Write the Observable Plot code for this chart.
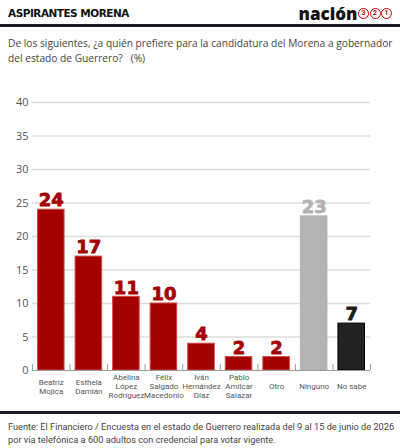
<!DOCTYPE html>
<html><head><meta charset="utf-8">
<script src="https://cdn.jsdelivr.net/npm/d3@7"></script>
<script src="https://cdn.jsdelivr.net/npm/@observablehq/plot@0.6"></script>
<style>
body{margin:0;background:#fff;}
#wrap{position:relative;width:400px;height:448px;overflow:hidden;font-family:"Open Sans",sans-serif;}
#title{position:absolute;left:8px;top:7px;font:bold 10.5px "DejaVu Sans",sans-serif;color:#111;letter-spacing:-0.5px;}
#logo{position:absolute;right:8px;top:2px;font:800 17px "Open Sans",sans-serif;color:#111;display:flex;align-items:center;}
#logo span.c{display:inline-block;width:9px;height:9px;border:1.3px solid #c00;border-radius:50%;color:#c00;font:700 7px "Roboto",sans-serif;line-height:9px;text-align:center;margin-left:0.5px;}
#rule1{position:absolute;left:0;top:24px;width:400px;height:3px;background:#1c1c2c;}
#sub{position:absolute;left:8px;top:36px;width:390px;font:10.2px "Open Sans",sans-serif;line-height:15px;color:#444;}
#chart{position:absolute;left:0;top:85px;}
#rule2{position:absolute;left:0;top:411px;width:400px;height:3px;background:#1c1c2c;}
#foot{position:absolute;left:8px;top:421px;width:390px;font:9.2px "Roboto",sans-serif;line-height:12.5px;color:#444;}
</style></head>
<body>
<div id="wrap">
  <div id="title">ASPIRANTES MORENA</div>
  <div id="logo">nación<span class="c">3</span><span class="c">2</span><span class="c">1</span></div>
  <div id="rule1"></div>
  <div id="sub">De los siguientes, ¿a quién prefiere para la candidatura del Morena a gobernador del estado de Guerrero? &nbsp;&nbsp;(%)</div>
  <div id="chart"></div>
  <div id="rule2"></div>
  <div id="foot">Fuente: El Financiero / Encuesta en el estado de Guerrero realizada del 9 al 15 de junio de 2026<br>por vía telefónica a 600 adultos con credencial para votar vigente.</div>
</div>
<script>
const categories = ["Beatriz\nMojica","Esthela\nDamián","Abelina\nLópez\nRodríguez","Félix\nSalgado\nMacedonio","Iván\nHernández\nDíaz","Pablo\nAmílcar\nSalazar","Otro","Ninguno","No sabe"];
const values = [24,17,11,10,4,2,2,23,7];
const groups = ["c","c","c","c","c","c","c","n","s"];
const yTicks = [0,5,10,15,20,25,30,35,40];

const fills = {c:"#a50000", n:"#b3b3b3", s:"#222222"};
const strokes = {c:"#d04848", n:"#b3b3b3", s:"#000000"};
const labelFills = {c:"#a50000", n:"#b3b3b3", s:"#1a1a1a"};

const data = categories.map((c,i)=>({i, c, v: values[i], g: groups[i]}));
const bounds = d3.range(categories.length + 1);

const chart = Plot.plot({
  width: 400,
  height: 320,
  marginTop: 17,
  marginBottom: 35,
  marginLeft: 32,
  marginRight: 30,
  x: {domain: [0, categories.length], axis: null},
  y: {domain: [0, 40], axis: null},
  style: {fontFamily: "Open Sans, sans-serif", background: "transparent"},
  marks: [
    Plot.ruleY(yTicks.filter(d=>d>0), {stroke: "#dcdcdc", strokeWidth: 1.5}),
    Plot.text(yTicks, {x: 0, y: d=>d, text: d=>String(d), textAnchor: "end", dx: -4, fontSize: 11, fill: "#555"}),
    Plot.rectY(data, {x1: d=>d.i, x2: d=>d.i+1, y1: 0, y2: "v", insetLeft: 5.5, insetRight: 5.5,
      fill: d=>fills[d.g], stroke: d=>strokes[d.g], strokeWidth: 1}),
    Plot.ruleY([0], {stroke: "#9a9a9a", strokeWidth: 1}),
    Plot.ruleX(bounds, {x: d=>d, y1: 0, y2: 0.9, stroke: "#9a9a9a", strokeWidth: 1}),
    Plot.text(data, {x: d=>d.i+0.5, y: "v", text: d=>String(d.v), dy: -9, fontSize: 18, fontWeight: 900,
      fontFamily: "DejaVu Sans, sans-serif", letterSpacing: -1, stroke: d=>labelFills[d.g], strokeWidth: 0.8,
      fill: d=>labelFills[d.g]}),
    Plot.text(data, {x: d=>d.i+0.5, y: 0, text: "c", dy: 16, lineAnchor: "middle", fontSize: 8, lineHeight: 1.12,
      fontFamily: "Roboto, sans-serif", fill: "#555"})
  ]
});
document.getElementById("chart").appendChild(chart);
</script>
</body></html>
